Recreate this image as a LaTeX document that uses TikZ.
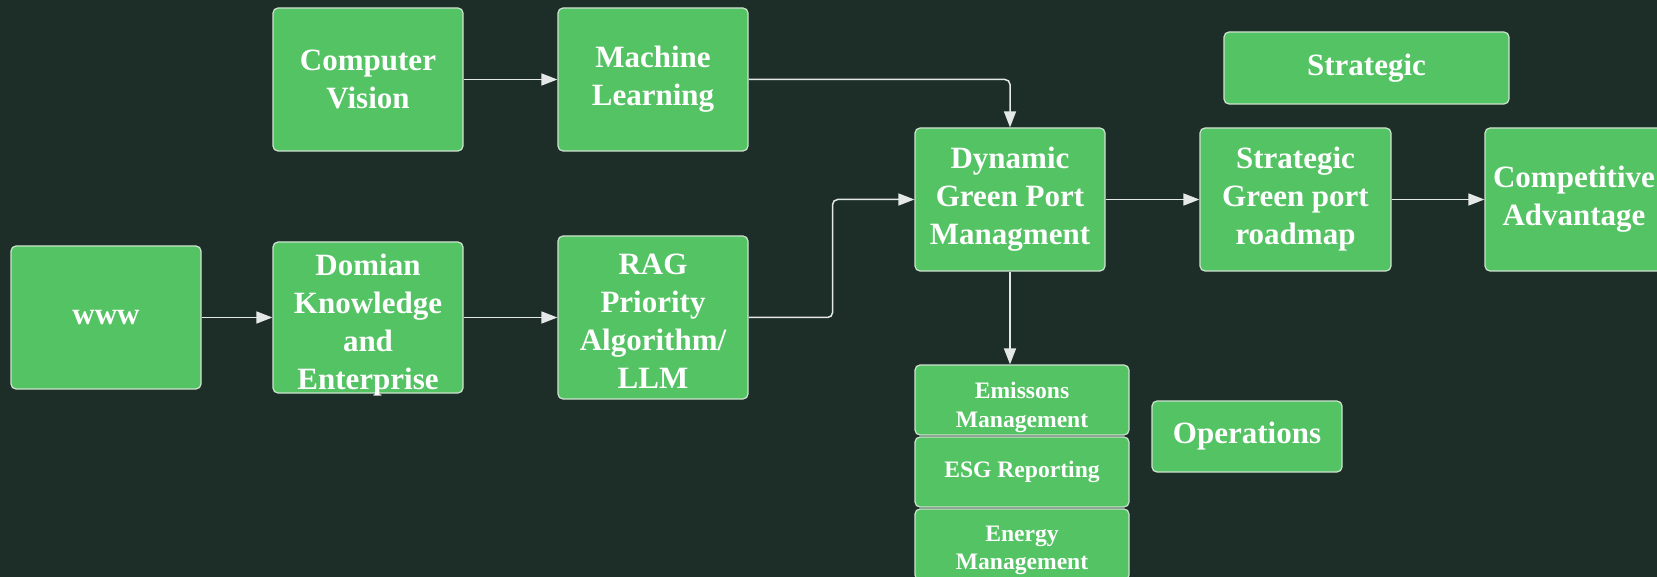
\documentclass[tikz,border=0pt]{standalone}
\usepackage{fontspec}
\setmainfont{Liberation Serif}
\usetikzlibrary{arrows.meta}
\definecolor{bg}{RGB}{29,46,41}
\definecolor{boxgreen}{RGB}{84,195,99}
\definecolor{edgecol}{RGB}{205,228,208}
\definecolor{wirecol}{RGB}{228,232,230}
\tikzset{
  bigfont/.style={font=\bfseries\fontsize{31}{38}\selectfont},
  smallfont/.style={font=\bfseries\fontsize{23.6}{28.5}\selectfont},
  box/.style={draw=edgecol, line width=1.2pt, fill=boxgreen, rounded corners=5pt,
    text=white, align=center, inner sep=0pt, bigfont},
  smallbox/.style={box, smallfont},
  boxtext/.style={text=white, align=center, inner sep=0pt},
  wire/.style={draw=wirecol, line width=1.5pt, rounded corners=5pt,
    -{Triangle[length=16pt,width=12pt,fill=wirecol]}}
}
\begin{document}
\begin{tikzpicture}[x=1pt,y=-1pt]
\fill[bg] (0,0) rectangle (1657,577);
\useasboundingbox (0,0) rectangle (1657,577);
\clip (0,0) rectangle (1657,577);

% upper input row
\node[box, minimum width=190pt, minimum height=143pt] (cv) at (368,79.5) {Computer\\Vision};
\node[box, minimum width=190pt, minimum height=143pt] (ml) at (653,79.5) {Machine\\Learning};

% lower input row
\node[box, minimum width=190pt, minimum height=143pt] (www) at (106,317.5) {www};
\node[box, minimum width=190pt, minimum height=151pt] (dk) at (368,317.5) {};
\node[boxtext, bigfont] (dktext) at ([yshift=-7.5pt]dk.center) {Domian\\Knowledge\\and\\Enterprise};
\node[box, minimum width=190pt, minimum height=163pt] (rag) at (653,317.5) {};
\node[boxtext, bigfont] (ragtext) at ([yshift=-3.5pt]rag.center) {RAG\\Priority\\Algorithm/\\LLM};

% central management block and strategic chain
\node[box, minimum width=190pt, minimum height=143pt] (dyn) at (1010,199.5) {Dynamic\\Green Port\\Managment};
\node[box, minimum width=285pt, minimum height=72pt] (strat) at (1366.5,68) {Strategic};
\node[box, minimum width=191pt, minimum height=143pt] (road) at (1295.5,199.5) {Strategic\\Green port\\roadmap};
\node[box, minimum width=190pt, minimum height=143pt] (comp) at (1580,199.5) {Competitive\hspace*{12pt}\\Advantage\hspace*{12pt}};

% operations stack
\node[smallbox, minimum width=214pt, minimum height=70pt] (emis) at (1022,400) {};
\node[boxtext, smallfont] (emistext) at ([yshift=-7.5pt]emis.center) {Emissons\\Management};
\node[smallbox, minimum width=214pt, minimum height=70pt] (esg) at (1022,472) {ESG Reporting};
\node[smallbox, minimum width=214pt, minimum height=71pt] (energy) at (1022,544.5) {};
\node[boxtext, smallfont] (energytext) at ([yshift=-6pt]energy.center) {Energy\\Management};
\node[box, minimum width=190pt, minimum height=71pt] (ops) at (1247,436.5) {Operations};

% connectors
\draw[wire] (cv.east) -- (ml.west);
\draw[wire] (ml.east) -| (dyn.north);
\draw[wire] (www.east) -- (dk.west);
\draw[wire] (dk.east) -- (rag.west);
\draw[wire] (rag.east) -- ++(84,0) |- (dyn.west);
\draw[wire] (dyn.east) -- (road.west);
\draw[wire] (road.east) -- (comp.west);
\draw[wire] (dyn.south) -- (dyn.south |- emis.north);
\end{tikzpicture}
\end{document}
